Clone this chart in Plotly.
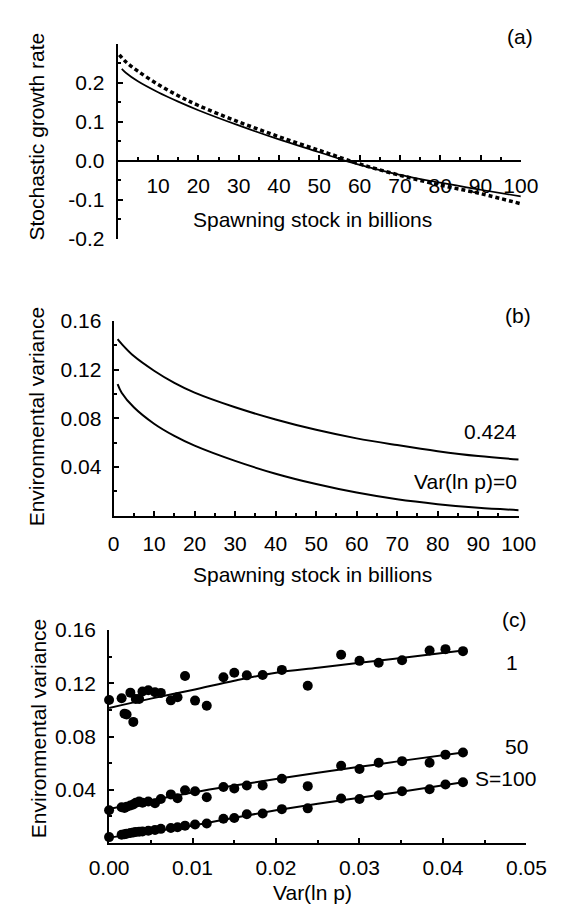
import plotly.graph_objects as go

W, H = 579, 918
FONT = "Liberation Sans, Arial, sans-serif"
FS = 21

# ---------- Panel (a) data ----------
a_solid_x = [1, 2, 5, 10, 15, 20, 30, 40, 50, 56.5, 60, 70, 80, 90, 100]
a_solid_y = [0.236, 0.226, 0.204, 0.176, 0.152, 0.130, 0.091, 0.055, 0.022, 0.0, -0.010, -0.036, -0.056, -0.074, -0.091]
a_dot_x = [0.4, 2, 5, 10, 15, 20, 30, 40, 50, 57.7, 60, 70, 80, 90, 100]
a_dot_y = [0.272, 0.254, 0.230, 0.196, 0.167, 0.142, 0.100, 0.062, 0.027, 0.0, -0.008, -0.037, -0.062, -0.084, -0.110]

# ---------- Panel (b) data ----------
b_x = [1, 2, 5, 10, 15, 20, 30, 40, 50, 60, 70, 80, 90, 100]
b_upper = [0.145, 0.141, 0.131, 0.119, 0.109, 0.101, 0.089, 0.079, 0.0705, 0.0635, 0.058, 0.053, 0.049, 0.0462]
b_lower = [0.108, 0.101, 0.089, 0.0755, 0.0655, 0.0575, 0.045, 0.0345, 0.026, 0.019, 0.0135, 0.0095, 0.0065, 0.0046]
b_labels = ["0.424", "Var(ln p)=0"]

# ---------- Panel (c) data ----------
c_x = [0, 0.0015, 0.00185, 0.0021, 0.00255, 0.0029, 0.0032, 0.0036, 0.0040, 0.0047,
       0.0055, 0.0062, 0.0074, 0.0082, 0.0091, 0.0103, 0.0117, 0.0137, 0.0150, 0.0165,
       0.0184, 0.0207, 0.0238, 0.0278, 0.0300, 0.0323, 0.0351, 0.0384, 0.0403, 0.0424]
c_s1 = [0.1075, 0.1088, 0.0972, 0.0965, 0.1130, 0.0910, 0.1082, 0.1082, 0.1138, 0.1148,
        0.1133, 0.1128, 0.1072, 0.1095, 0.1255, 0.1070, 0.1031, 0.1245, 0.1279, 0.1260,
        0.1262, 0.1301, 0.1182, 0.1415, 0.1369, 0.1355, 0.1374, 0.1447, 0.1457, 0.1442]
c_s50 = [0.0246, 0.0268, 0.0263, 0.0272, 0.0282, 0.0290, 0.0302, 0.0311, 0.0302, 0.0311,
         0.0299, 0.0330, 0.0365, 0.0336, 0.0396, 0.0388, 0.0343, 0.0420, 0.0409, 0.0432,
         0.0432, 0.0482, 0.0427, 0.0580, 0.0556, 0.0603, 0.0615, 0.0603, 0.0664, 0.0680]
c_s100 = [0.0044, 0.0062, 0.0065, 0.0070, 0.0075, 0.0078, 0.0082, 0.0084, 0.0087, 0.0092,
          0.0098, 0.0106, 0.0113, 0.0118, 0.0130, 0.0138, 0.0146, 0.0182, 0.0188, 0.0216,
          0.0222, 0.0254, 0.0260, 0.0334, 0.0330, 0.0358, 0.0388, 0.0403, 0.0440, 0.0456]
fit_x = [0, 0.005, 0.01, 0.015, 0.02, 0.025, 0.03, 0.035, 0.0424]
fit_s1 = [0.1015, 0.1085, 0.1150, 0.1220, 0.1280, 0.1317, 0.1354, 0.1390, 0.1446]
fit_s50 = [0.0256, 0.0320, 0.0380, 0.0432, 0.0480, 0.0527, 0.0572, 0.0617, 0.0680]
fit_s100 = [0.0040, 0.0085, 0.0130, 0.0190, 0.0245, 0.0295, 0.0340, 0.0385, 0.0456]
c_labels = ["1", "50", "S=100"]


def px(x):
    return x / W


def py(y):
    return 1 - y / H


fig = go.Figure()

# Panel (a)
fig.add_trace(go.Scatter(x=a_solid_x, y=a_solid_y, mode="lines", line=dict(color="black", width=1.7, shape="spline"),
                         xaxis="x", yaxis="y", showlegend=False))
fig.add_trace(go.Scatter(x=a_dot_x, y=a_dot_y, mode="lines",
                         line=dict(color="black", width=3.5, dash="4px,3px", shape="spline"),
                         xaxis="x", yaxis="y", showlegend=False))

# Panel (b)
for yy in (b_upper, b_lower):
    fig.add_trace(go.Scatter(x=b_x, y=yy, mode="lines", line=dict(color="black", width=2, shape="spline"),
                             xaxis="x2", yaxis="y2", showlegend=False))

# Panel (c)
for pts, fit in ((c_s1, fit_s1), (c_s50, fit_s50), (c_s100, fit_s100)):
    fig.add_trace(go.Scatter(x=fit_x, y=fit, mode="lines", line=dict(color="black", width=2, shape="spline"),
                             xaxis="x3", yaxis="y3", showlegend=False))
    fig.add_trace(go.Scatter(x=c_x, y=pts, mode="markers", marker=dict(color="black", size=10),
                             xaxis="x3", yaxis="y3", showlegend=False, cliponaxis=False))

tickfont = dict(family=FONT, size=FS, color="black")
common = dict(showline=True, linecolor="black", linewidth=2, showgrid=False, zeroline=False,
              ticks="inside", ticklen=5, tickwidth=1.5, tickcolor="black", tickfont=tickfont)
minor_common = dict(ticks="inside", ticklen=3, tickcolor="black")

# domains (px)
a_dom_x = [px(105), px(538)]
a_dom_y = [py(232.7), py(32.7)]
b_dom_x = [px(100.5), px(535.7)]
b_dom_y = [py(516.7), py(316.7)]
c_dom_x = [px(95.7), px(544)]
c_dom_y = [py(852.3), py(634)]

a_xpos = a_dom_y[0] + (a_dom_y[1] - a_dom_y[0]) * (0 - (-0.2)) / 0.5

fig.update_layout(
    width=W, height=H,
    margin=dict(l=0, r=0, t=0, b=0),
    paper_bgcolor="white", plot_bgcolor="white",
    font=dict(family=FONT, size=FS, color="black"),
    xaxis=dict(domain=a_dom_x, range=[0, 100], anchor="free", position=a_xpos,
               tickvals=[10, 20, 30, 40, 50, 60, 70, 80, 90, 100], ticktext=[str(v) for v in range(10, 101, 10)],
               minor=dict(tickvals=[5, 15, 25, 35, 45, 55, 65, 75, 85, 95], **minor_common),
               ticklabelstandoff=6, **common),
    yaxis=dict(domain=a_dom_y, range=[-0.2, 0.3], anchor="x",
               tickvals=[-0.2, -0.1, 0.0, 0.1, 0.2], ticktext=["-0.2", "-0.1", "0.0", "0.1", "0.2"],
               minor=dict(tickvals=[-0.15, -0.05, 0.05, 0.15, 0.25], **minor_common),
               ticklabelstandoff=7, **common),
    xaxis2=dict(domain=b_dom_x, range=[0, 100], anchor="y2",
                tickvals=list(range(0, 101, 10)),
                minor=dict(tickvals=[5, 15, 25, 35, 45, 55, 65, 75, 85, 95], **minor_common),
                ticklabelstandoff=8, **common),
    yaxis2=dict(domain=b_dom_y, range=[0, 0.16], anchor="x2",
                tickvals=[0.04, 0.08, 0.12, 0.16], ticktext=["0.04", "0.08", "0.12", "0.16"],
                minor=dict(tickvals=[0.02, 0.06, 0.10, 0.14], **minor_common),
                ticklabelstandoff=6, **common),
    xaxis3=dict(domain=c_dom_x, range=[0, 0.05], anchor="y3",
                tickvals=[0, 0.01, 0.02, 0.03, 0.04, 0.05], ticktext=["0.00", "0.01", "0.02", "0.03", "0.04", "0.05"],
                minor=dict(tickvals=[0.005, 0.015, 0.025, 0.035, 0.045], **minor_common),
                ticklabelstandoff=5, **common),
    yaxis3=dict(domain=c_dom_y, range=[0, 0.16], anchor="x3",
                tickvals=[0.04, 0.08, 0.12, 0.16], ticktext=["0.04", "0.08", "0.12", "0.16"],
                minor=dict(tickvals=[0.02, 0.06, 0.10, 0.14], **minor_common),
                ticklabelstandoff=7, **common),
)


def ann(text, x, y, xanchor="center", angle=0):
    fig.add_annotation(text=text, x=px(x), y=py(y), xref="paper", yref="paper", showarrow=False,
                       xanchor=xanchor, yanchor="middle", textangle=angle,
                       font=dict(family=FONT, size=FS, color="black"))


# panel labels
ann("(a)", 536.7, 25)
ann("(b)", 535, 311.7)
ann("(c)", 531, 623)

# axis titles
ann("Stochastic growth rate", 18, 128, angle=-90)
ann("Spawning stock in billions", 314, 213)
ann("Environmental variance", 18, 415, angle=-90)
ann("Spawning stock in billions", 314, 577)
ann("Environmental variance", 20, 735, angle=-90)
ann("Var(ln p)", 314, 903)

# curve labels
ann(b_labels[0], 535.7, 430.7, xanchor="right")
ann(b_labels[1], 535.7, 481.7, xanchor="right")
ann(c_labels[0], 529, 667)
ann(c_labels[1], 533, 753)
ann(c_labels[2], 521, 786.7)

fig.write_html("out.html")
